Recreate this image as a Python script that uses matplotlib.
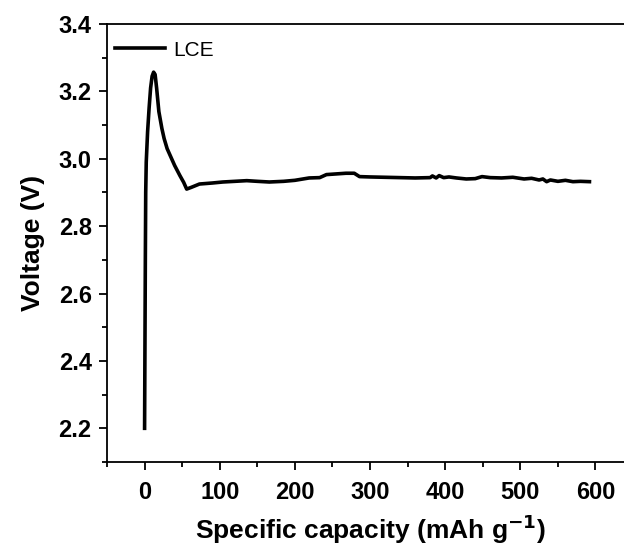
import numpy as np
import matplotlib.pyplot as plt
from matplotlib.ticker import MultipleLocator

plt.rcParams["font.family"] = ["Liberation Sans", "DejaVu Sans"]

# Galvanostatic curve of the LCE cell
capacity = [0, 0.5, 1, 1.5, 2.2, 3, 4, 6, 8, 10, 12, 14, 16, 19, 23, 26, 30, 35, 40,
            47, 52, 56, 62, 73, 90, 104, 120, 136, 150, 166, 185, 200, 219, 233,
            242, 255, 268, 279, 286, 300, 320, 340, 360, 380, 383, 388, 392, 398,
            405, 415, 428, 440, 449, 460, 475, 490, 505, 515, 525, 530, 535, 540,
            550, 560, 570, 580, 592]
voltage = [2.20, 2.45, 2.70, 2.90, 2.99, 3.03, 3.08, 3.15, 3.21, 3.245, 3.257, 3.25,
           3.21, 3.14, 3.09, 3.06, 3.03, 3.005, 2.98, 2.95, 2.93, 2.91, 2.915, 2.925,
           2.928, 2.931, 2.933, 2.935, 2.933, 2.931, 2.933, 2.936, 2.943, 2.944,
           2.953, 2.955, 2.957, 2.957, 2.947, 2.946, 2.945, 2.944, 2.943, 2.944, 2.949,
           2.943, 2.950, 2.944, 2.946, 2.943, 2.940, 2.941, 2.947, 2.944, 2.943,
           2.945, 2.940, 2.942, 2.937, 2.940, 2.932, 2.937, 2.933, 2.936, 2.932,
           2.933, 2.932]

fig = plt.figure(figsize=(6.24, 5.5), dpi=100)
ax = fig.add_axes([0.1715, 0.16, 0.843, 0.7964])

ax.plot(capacity, voltage, color="black", lw=2.6, label="LCE")

ax.set_xlim(-50, 650)
ax.set_ylim(2.1, 3.4)
ax.xaxis.set_major_locator(MultipleLocator(100))
ax.xaxis.set_minor_locator(MultipleLocator(50))
ax.yaxis.set_minor_locator(MultipleLocator(0.1))
ax.set_yticks(np.arange(2.2, 3.41, 0.2))

ax.tick_params(which="both", direction="out", width=1.3, top=False, right=False)
ax.tick_params(which="major", length=6, labelsize=17)
ax.tick_params(which="minor", length=3.5)
ax.tick_params(axis="x", which="major", pad=8)
ax.tick_params(axis="y", which="major", pad=5)
for lab in ax.get_xticklabels() + ax.get_yticklabels():
    lab.set_fontweight("bold")
for sp in ax.spines.values():
    sp.set_linewidth(1.3)

ax.set_xlabel("Specific capacity (mAh g$^{\\mathbf{-1}}$)", fontsize=19,
              fontweight="bold", labelpad=6)
ax.set_ylabel("Voltage (V)", fontsize=19, fontweight="bold", labelpad=10)

ax.legend(loc="center left", bbox_to_anchor=(0.015, 0.94), frameon=False,
          fontsize=15, handlelength=2.4, handletextpad=0.4, borderpad=0,
          borderaxespad=0)

fig.savefig("out.png", dpi=100)
